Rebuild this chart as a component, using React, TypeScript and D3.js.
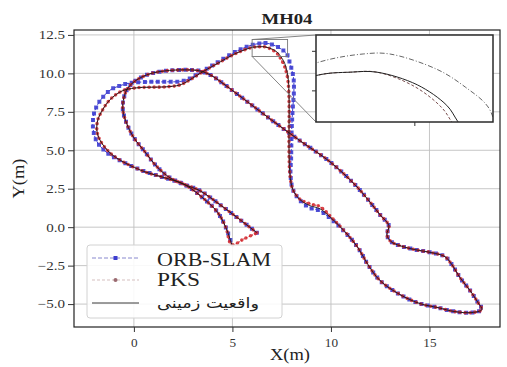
import React, { useRef, useEffect } from "react";
import * as d3 from "d3";

type Pt = [number, number];

const groundTruth: Pt[] = [
  [6.24, -0.36], [5.38, 0.49], [4.37, 1.46], [3.35, 2.37], [2.59, 2.76], [1.83, 3.21],
  [1.17, 3.93], [0.56, 4.9], [0.0, 5.81], [-0.36, 6.72], [-0.56, 7.63], [-0.51, 8.41],
  [-0.3, 9.06], [0.15, 9.58], [0.81, 9.97], [1.57, 10.16], [2.59, 10.23], [3.35, 10.16],
  [3.96, 9.84], [4.62, 9.25], [5.63, 8.28], [6.9, 7.05], [8.43, 5.62], [9.95, 4.25],
  [11.22, 2.76], [11.88, 1.79], [12.49, 0.81], [12.94, 0.1], [12.84, -0.49], [13.05, -0.94],
  [13.5, -1.2], [14.26, -1.46], [15.13, -1.66], [15.79, -1.92], [16.14, -2.44], [16.55, -3.28],
  [17.06, -4.12], [17.46, -4.9], [17.66, -5.36], [17.16, -5.55], [16.29, -5.49], [15.43, -5.23],
  [14.52, -4.97], [13.5, -4.38], [12.49, -3.47], [11.88, -2.44], [11.37, -1.33], [10.71, -0.29],
  [10.05, 0.55], [9.44, 1.2], [8.93, 1.4], [8.43, 1.79], [8.07, 2.44], [7.92, 3.41],
  [7.88, 4.5], [7.87, 6.0], [7.88, 7.5], [7.87, 8.8], [7.83, 9.7], [7.72, 10.4],
  [7.58, 10.85], [7.44, 11.11], [7.33, 11.31], [7.03, 11.57], [6.62, 11.73], [6.35, 11.73],
  [6.01, 11.69], [5.23, 11.33], [4.11, 10.55], [3.4, 10.03], [2.84, 9.58], [2.34, 9.25],
  [1.57, 9.12], [0.81, 9.1], [0.05, 9.05], [-0.61, 8.85], [-1.22, 8.28], [-1.6, 7.6],
  [-1.83, 6.98], [-1.88, 6.3], [-1.73, 5.68], [-1.22, 4.84], [-0.46, 4.19], [0.56, 3.6],
  [1.57, 3.21], [2.59, 2.76], [3.6, 1.79], [4.26, 0.94], [4.67, -0.03], [4.97, -1.14],
];

const pksTrack: Pt[] = [
  [6.24, -0.36], [5.38, 0.49], [4.37, 1.46], [3.35, 2.37], [2.59, 2.76], [1.83, 3.21],
  [1.17, 3.93], [0.56, 4.9], [0.0, 5.81], [-0.36, 6.72], [-0.56, 7.63], [-0.51, 8.41],
  [-0.3, 9.06], [0.15, 9.58], [0.81, 9.97], [1.57, 10.16], [2.59, 10.23], [3.35, 10.16],
  [3.96, 9.84], [4.62, 9.25], [5.63, 8.28], [6.9, 7.05], [8.43, 5.62], [9.95, 4.25],
  [11.22, 2.76], [11.88, 1.79], [12.49, 0.81], [12.94, 0.1], [12.84, -0.49], [13.05, -0.94],
  [13.5, -1.2], [14.26, -1.46], [15.13, -1.66], [15.79, -1.92], [16.14, -2.44], [16.55, -3.28],
  [17.06, -4.12], [17.46, -4.9], [17.66, -5.36], [17.16, -5.55], [16.29, -5.49], [15.43, -5.23],
  [14.52, -4.97], [13.5, -4.38], [12.49, -3.47], [11.88, -2.44], [11.37, -1.33], [10.71, -0.29],
  [10.05, 0.6], [9.44, 1.34], [8.93, 1.52], [8.43, 1.82], [8.07, 2.44], [7.92, 3.41],
  [7.88, 4.5], [7.87, 6.0], [7.88, 7.5], [7.86, 8.8], [7.8, 9.7], [7.66, 10.4],
  [7.5, 10.85], [7.38, 11.1], [7.28, 11.28], [7.0, 11.55], [6.62, 11.73], [6.35, 11.73],
  [6.01, 11.69], [5.23, 11.33], [4.11, 10.55], [3.4, 10.03], [2.84, 9.58], [2.34, 9.25],
  [1.57, 9.12], [0.81, 9.1], [0.05, 9.05], [-0.61, 8.85], [-1.22, 8.28], [-1.6, 7.6],
  [-1.83, 6.98], [-1.88, 6.3], [-1.73, 5.68], [-1.22, 4.84], [-0.46, 4.19], [0.56, 3.6],
  [1.57, 3.21], [2.59, 2.76], [3.6, 1.79], [4.26, 0.94], [4.67, -0.03], [4.97, -1.14],
  [5.6, -0.75], [6.2, -0.4],
];

const orbTrack: Pt[] = [
  [6.24, -0.36], [5.38, 0.49], [4.37, 1.46], [3.35, 2.37], [2.59, 2.76], [1.83, 3.21],
  [1.17, 3.93], [0.56, 4.9], [0.0, 5.81], [-0.36, 6.72], [-0.56, 7.63], [-0.51, 8.41],
  [-0.3, 9.06], [0.15, 9.58], [0.81, 9.97], [1.57, 10.16], [2.59, 10.23], [3.35, 10.16],
  [3.96, 9.84], [4.62, 9.25], [5.63, 8.28], [6.9, 7.05], [8.43, 5.62], [9.95, 4.25],
  [11.22, 2.76], [11.88, 1.79], [12.49, 0.81], [12.94, 0.1], [12.84, -0.49], [13.05, -0.94],
  [13.5, -1.2], [14.26, -1.46], [15.13, -1.66], [15.79, -1.92], [16.14, -2.44], [16.55, -3.28],
  [17.06, -4.12], [17.46, -4.9], [17.66, -5.36], [17.16, -5.55], [16.29, -5.49], [15.43, -5.23],
  [14.52, -4.97], [13.5, -4.38], [12.49, -3.47], [11.88, -2.44], [11.37, -1.33], [10.71, -0.32],
  [10.05, 0.48], [9.44, 1.06], [8.93, 1.26], [8.43, 1.74], [8.07, 2.44], [7.95, 3.41],
  [7.98, 4.5], [8.0, 6.0], [8.05, 7.5], [8.12, 8.8], [8.1, 9.7], [7.98, 10.4],
  [7.85, 10.95], [7.75, 11.29], [7.52, 11.54], [7.24, 11.76], [6.75, 11.96], [6.48, 11.96],
  [6.01, 11.85], [5.23, 11.45], [4.11, 10.62], [3.4, 10.08], [2.54, 9.52], [1.6, 9.45],
  [0.81, 9.45], [-0.15, 9.38], [-0.75, 9.18], [-1.22, 8.9], [-1.7, 8.25], [-2.0, 7.5],
  [-2.08, 6.55], [-1.9, 5.62], [-1.42, 4.9], [-0.55, 4.23], [0.56, 3.62], [1.57, 3.21],
  [2.59, 2.76], [3.6, 1.79], [4.26, 0.94], [4.67, -0.03], [4.97, -1.14],
];

const xTicks = [0, 5, 10, 15];
const yTicks = [-5, -2.5, 0, 2.5, 5, 7.5, 10, 12.5];
const insetXTicks = [7];
const insetYTicks = [11.5, 12];
const xDomain = [-3.04, 18.58];
const yDomain = [-6.49, 12.82];
const insetXDomain = [6.0, 7.8];
const insetYDomain = [11.1, 12.2];
const legendLabels = ["ORB-SLAM", "PKS", "واقعیت زمینی"];

const orbColor = "#3d3dd0";
const pksColor = "#d2282e";
const serif = "'Liberation Serif', 'Times New Roman', serif";

const App: React.FC = () => {
  const svgRef = useRef<SVGSVGElement | null>(null);

  useEffect(() => {
    if (!svgRef.current) return;
    const svg = d3.select(svgRef.current);
    svg.selectAll("*").remove();

    const left = 74, right = 500, top = 30, bottom = 327;
    const x = d3.scaleLinear().domain(xDomain).range([left, right]);
    const y = d3.scaleLinear().domain(yDomain).range([bottom, top]);

    // stretch text horizontally like the scanned figure
    const stretch = (sel: any, k: number) => {
      sel.each(function (this: SVGTextElement) {
        const w = this.getComputedTextLength();
        d3.select(this).attr("textLength", w * k).attr("lengthAdjust", "spacingAndGlyphs");
      });
    };

    svg.append("defs").append("clipPath").attr("id", "plotClip")
      .append("rect").attr("x", left).attr("y", top).attr("width", right - left).attr("height", bottom - top);

    // grid
    const grid = svg.append("g").attr("stroke", "#c0c0c0").attr("stroke-width", 0.9);
    grid.selectAll("line.gx").data(xTicks).join("line").attr("class", "gx")
      .attr("x1", (d) => x(d)).attr("x2", (d) => x(d)).attr("y1", top).attr("y2", bottom);
    grid.selectAll("line.gy").data(yTicks).join("line").attr("class", "gy")
      .attr("x1", left).attr("x2", right).attr("y1", (d) => y(d)).attr("y2", (d) => y(d));

    const line = d3.line<Pt>()
      .x((d) => x(d[0]))
      .y((d) => y(d[1]))
      .curve(d3.curveCatmullRom.alpha(0.5));

    const plot = svg.append("g").attr("clip-path", "url(#plotClip)").attr("fill", "none");

    // ORB-SLAM: dashed line with square markers
    plot.append("path").attr("d", line(orbTrack)!)
      .attr("stroke", orbColor).attr("stroke-width", 1).attr("stroke-dasharray", "4 2");
    plot.append("path").attr("d", line(orbTrack)!)
      .attr("stroke", orbColor).attr("stroke-width", 4).attr("stroke-opacity", 0.9)
      .attr("stroke-linecap", "square").attr("stroke-dasharray", "0 6.5");

    // PKS: dotted line with round markers
    plot.append("path").attr("d", line(pksTrack)!)
      .attr("stroke", pksColor).attr("stroke-width", 1.1).attr("stroke-dasharray", "1.5 1.5");
    plot.append("path").attr("d", line(pksTrack)!)
      .attr("stroke", pksColor).attr("stroke-width", 3.6).attr("stroke-opacity", 0.85)
      .attr("stroke-linecap", "round").attr("stroke-dasharray", "0 5");

    // ground truth
    plot.append("path").attr("d", line(groundTruth)!)
      .attr("stroke", "#1a1a1a").attr("stroke-width", 0.9);

    // frame
    svg.append("rect").attr("x", left).attr("y", top).attr("width", right - left).attr("height", bottom - top)
      .attr("fill", "none").attr("stroke", "#222").attr("stroke-width", 1.2);

    // axes
    const fmt = (d: d3.NumberValue) => (+d).toFixed(1).replace("-", "\u2212");
    const yAxis = svg.append("g").attr("transform", `translate(${left},0)`)
      .call(d3.axisLeft(y).tickValues(yTicks).tickSize(6).tickPadding(3).tickFormat(fmt));
    const xAxis = svg.append("g").attr("transform", `translate(0,${bottom})`)
      .call(d3.axisBottom(x).tickValues(xTicks).tickSize(5).tickPadding(6).tickFormat((d) => String(d)));
    [xAxis, yAxis].forEach((ax) => {
      ax.select(".domain").remove();
      ax.selectAll("line").attr("stroke", "#333");
      ax.selectAll("text").attr("fill", "#333").style("font-family", serif).style("font-size", "12px");
    });
    stretch(yAxis.selectAll("text"), 1.25);
    stretch(xAxis.selectAll("text"), 1.1);

    // title and axis labels
    svg.append("text").attr("x", (left + right) / 2).attr("y", 24).attr("text-anchor", "middle")
      .style("font-family", serif).style("font-size", "14px").style("font-weight", "bold")
      .attr("fill", "#222").text("MH04")
      .attr("textLength", 51).attr("lengthAdjust", "spacingAndGlyphs");
    svg.append("text").attr("x", 290).attr("y", 360).attr("text-anchor", "middle")
      .style("font-family", serif).style("font-size", "16px").attr("fill", "#222").text("X(m)")
      .attr("textLength", 40).attr("lengthAdjust", "spacingAndGlyphs");
    svg.append("text").attr("transform", `translate(24,${(top + bottom) / 2}) rotate(-90)`)
      .attr("text-anchor", "middle")
      .style("font-family", serif).style("font-size", "16px").attr("fill", "#222").text("Y(m)")
      .attr("textLength", 40).attr("lengthAdjust", "spacingAndGlyphs");

    // zoom indicator
    const zx0 = x(insetXDomain[0]), zx1 = x(insetXDomain[1]);
    const zy0 = y(insetYDomain[1]), zy1 = y(insetYDomain[0]);
    const ins = { x: 316, y: 35, w: 177, h: 87 };
    const ind = svg.append("g").attr("stroke", "#777").attr("stroke-width", 0.9).attr("fill", "none");
    ind.append("rect").attr("x", zx0).attr("y", zy0).attr("width", zx1 - zx0).attr("height", zy1 - zy0);
    ind.append("line").attr("x1", zx0).attr("y1", zy0).attr("x2", ins.x).attr("y2", ins.y);
    ind.append("line").attr("x1", zx0).attr("y1", zy1).attr("x2", ins.x).attr("y2", ins.y + ins.h);

    // inset axes
    const ix = d3.scaleLinear().domain(insetXDomain).range([ins.x, ins.x + ins.w]);
    const iy = d3.scaleLinear().domain(insetYDomain).range([ins.y + ins.h, ins.y]);
    svg.select("defs").append("clipPath").attr("id", "insetClip")
      .append("rect").attr("x", ins.x).attr("y", ins.y).attr("width", ins.w).attr("height", ins.h);
    svg.append("rect").attr("x", ins.x).attr("y", ins.y).attr("width", ins.w).attr("height", ins.h)
      .attr("fill", "white");
    const iline = d3.line<Pt>()
      .x((d) => ix(d[0]))
      .y((d) => iy(d[1]))
      .curve(d3.curveCatmullRom.alpha(0.5));
    const inset = svg.append("g").attr("clip-path", "url(#insetClip)").attr("fill", "none");
    inset.append("path").attr("d", iline(orbTrack)!)
      .attr("stroke", "#555").attr("stroke-width", 0.9).attr("stroke-dasharray", "5 2 1 2");
    inset.append("path").attr("d", iline(pksTrack)!)
      .attr("stroke", "#6a3a3a").attr("stroke-width", 0.9).attr("stroke-dasharray", "3 2");
    inset.append("path").attr("d", iline(groundTruth)!)
      .attr("stroke", "#222").attr("stroke-width", 1);
    svg.append("rect").attr("x", ins.x).attr("y", ins.y).attr("width", ins.w).attr("height", ins.h)
      .attr("fill", "none").attr("stroke", "#2a2a2a").attr("stroke-width", 1.5);
    const iyAxis = svg.append("g").attr("transform", `translate(${ins.x},0)`)
      .call(d3.axisLeft(iy).tickValues(insetYTicks).tickSize(4).tickFormat(() => ""));
    const ixAxis = svg.append("g").attr("transform", `translate(0,${ins.y + ins.h})`)
      .call(d3.axisBottom(ix).tickValues(insetXTicks).tickSize(4).tickFormat(() => ""));
    [iyAxis, ixAxis].forEach((ax) => {
      ax.select(".domain").remove();
      ax.selectAll("line").attr("stroke", "#333");
    });

    // legend
    const lg = svg.append("g");
    lg.append("rect").attr("x", 87).attr("y", 245).attr("width", 195).attr("height", 73).attr("rx", 3)
      .attr("fill", "white").attr("fill-opacity", 0.88).attr("stroke", "#d2d2d2");
    const rows = [258, 280, 303];
    const hx0 = 92, hx1 = 139, hm = (hx0 + hx1) / 2;
    lg.append("line").attr("x1", hx0).attr("x2", hx1).attr("y1", rows[0]).attr("y2", rows[0])
      .attr("stroke", "#7c7cc8").attr("stroke-width", 0.9).attr("stroke-dasharray", "4 2");
    lg.append("rect").attr("x", hm - 2).attr("y", rows[0] - 2).attr("width", 4).attr("height", 4).attr("fill", orbColor);
    lg.append("line").attr("x1", hx0).attr("x2", hx1).attr("y1", rows[1]).attr("y2", rows[1])
      .attr("stroke", "#d0b8b8").attr("stroke-width", 0.9).attr("stroke-dasharray", "3 2");
    lg.append("circle").attr("cx", hm).attr("cy", rows[1]).attr("r", 2).attr("fill", "#9a6a70");
    lg.append("line").attr("x1", hx0).attr("x2", hx1).attr("y1", rows[2]).attr("y2", rows[2])
      .attr("stroke", "#222").attr("stroke-width", 0.9);

    const lt = lg.selectAll("text.lt").data(legendLabels).join("text").attr("class", "lt")
      .attr("x", 157).attr("y", (_, i) => [266, 286, 308][i])
      .attr("fill", "#222")
      .style("font-family", (_, i) => (i === 2 ? "'DejaVu Sans', sans-serif" : serif))
      .style("font-size", (_, i) => (i === 2 ? "14px" : "18px"))
      .text((d) => d);
    lt.attr("textLength", (_, i) => [114, 43, 102][i]).attr("lengthAdjust", "spacingAndGlyphs");
  }, []);

  return (
    <svg
      ref={svgRef}
      width={507}
      height={367}
      style={{ position: "absolute", left: 0, top: 0, background: "white" }}
    />
  );
};

export default App;
